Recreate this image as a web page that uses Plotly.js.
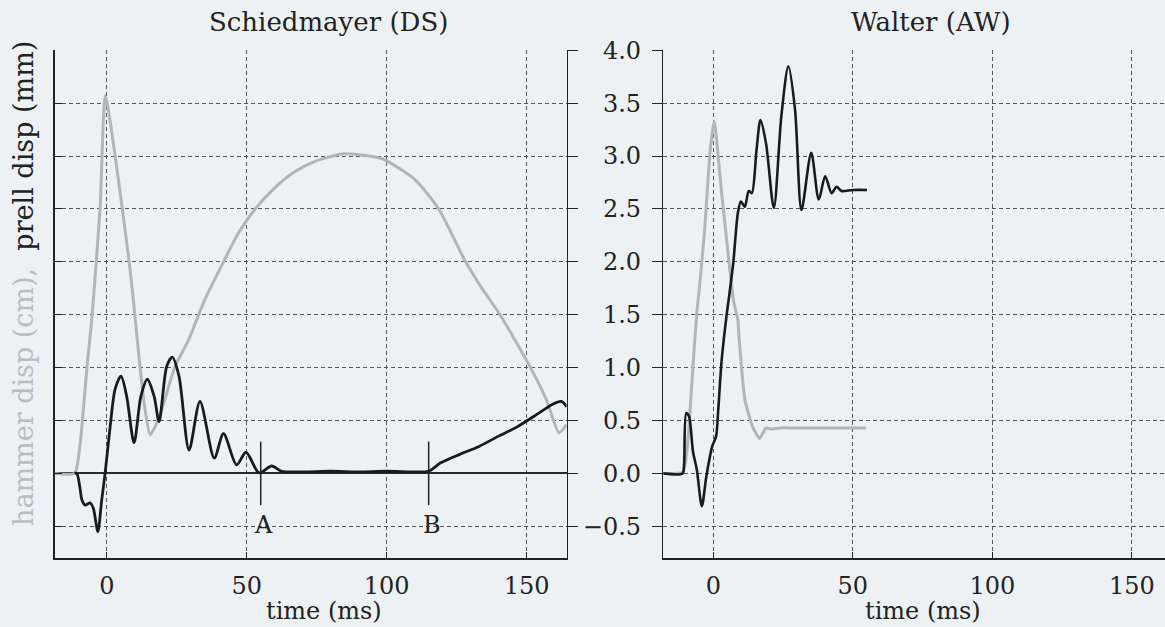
<!DOCTYPE html>
<html>
<head>
<meta charset="utf-8">
<script src="https://cdn.plot.ly/plotly-3.0.1.min.js"></script>
<style>html,body{margin:0;padding:0;background:#edf1f3;}#chart{width:1165px;height:627px;}</style>
</head>
<body>
<div id="chart"></div>
<script>
// ---- Data (time in ms, displacement) ----
// Schiedmayer (DS): hammer displacement (gray, cm)
const dsHammerT = [-18.5, -11.5, -10.3, -9.1, -7.1, -5.6, -4.8, -2.4, -0.5, 3.0, 8.0, 9.5, 11.9, 13.7, 15.5, 17.25, 19.6, 24.4, 29.2, 35, 41.7, 47, 53, 60, 67, 74.4, 84, 91, 98.8, 110, 118.6, 128.2, 134, 140.5, 151.4, 157, 161.6, 164.3];
const dsHammerV = [0, 0, 0.12, 0.38, 1.0, 1.39, 1.64, 2.5, 3.57, 3.0, 2.0, 1.64, 1.0, 0.6, 0.365, 0.44, 0.6, 1.01, 1.26, 1.64, 2.0, 2.27, 2.5, 2.7, 2.85, 2.95, 3.02, 3.01, 2.97, 2.78, 2.5, 2.0, 1.75, 1.5, 1.0, 0.7, 0.385, 0.46];
// Schiedmayer (DS): prell displacement (black, mm)
const dsPrellT = [-11.5, -10.7, -9.5, -8.9, -7.75, -5.96, -4.8, -3.2, -1.8, -0.6, 1.2, 3.0, 5.1, 7.1, 9.75, 12.2, 14.5, 16.9, 18.7, 21.4, 23.4, 25.8, 29.4, 33.3, 38.4, 41.7, 46.4, 49.75, 54.4, 58.9, 62.5, 70, 80, 90, 100, 110, 115, 119.3, 126.1, 133, 139.8, 146.6, 153.5, 159, 162.4, 164.3];
const dsPrellV = [0, 0, -0.15, -0.25, -0.30, -0.28, -0.33, -0.55, -0.25, 0, 0.44, 0.80, 0.92, 0.73, 0.29, 0.73, 0.89, 0.73, 0.49, 1.01, 1.10, 0.92, 0.22, 0.68, 0.145, 0.375, 0.08, 0.20, 0.005, 0.07, 0.02, 0.015, 0.02, 0.015, 0.02, 0.015, 0.02, 0.10, 0.18, 0.255, 0.35, 0.44, 0.555, 0.65, 0.68, 0.63];
// Walter (AW): hammer displacement (gray, cm)
const awHammerT = [-18, -11, -10, -8.7, -7.3, -5.9, -5.0, -3.2, -1.1, 0.3, 3.0, 5.8, 7.2, 8.8, 9.3, 11.3, 14.1, 16.6, 18.9, 20.7, 23.8, 30, 40, 50, 54.8];
const awHammerV = [0, 0.01, 0.1, 0.44, 1.01, 1.52, 1.75, 2.27, 3.06, 3.33, 2.65, 1.96, 1.64, 1.45, 1.26, 0.70, 0.44, 0.33, 0.43, 0.42, 0.43, 0.43, 0.43, 0.43, 0.43];
// Walter (AW): prell displacement (black, mm)
const awPrellT = [-18, -11, -10.5, -9.7, -8.7, -7.3, -5.9, -4.1, -2.5, -0.4, 1.0, 1.7, 3.0, 4.7, 5.8, 7.2, 8.8, 9.9, 11.3, 12.7, 13.8, 15.5, 16.9, 18.9, 21.7, 24.4, 26.9, 29.3, 31.6, 35.1, 37.8, 40.1, 42.4, 44.2, 45.9, 50, 55.1];
const awPrellV = [0, 0, 0.07, 0.57, 0.54, 0.21, 0.035, -0.31, -0.03, 0.255, 0.35, 0.57, 1.07, 1.48, 1.7, 2.0, 2.46, 2.57, 2.52, 2.67, 2.65, 3.06, 3.34, 3.12, 2.51, 3.38, 3.85, 3.44, 2.49, 3.03, 2.59, 2.81, 2.65, 2.71, 2.67, 2.68, 2.68];
// Event markers (DS)
const markerTimes = [55, 115];
const markerLabels = ['A', 'B'];
const markerSpan = [0.3, -0.3];
// Axes ticks
const xTicks = [0, 50, 100, 150];
const yTicks = [-0.5, 0, 0.5, 1, 1.5, 2, 2.5, 3, 3.5, 4];

const FONT = 'DejaVu Serif';
const INK = '#222';
const GRAY = '#b4b4b4';
const BLACK = '#1a1a1a';
const BG = '#edf1f3';

const mx = [], my = [];
markerTimes.forEach(t => { mx.push(t, t, null); my.push(markerSpan[0], markerSpan[1], null); });

const traces = [
  {x: dsHammerT, y: dsHammerV, xaxis: 'x', yaxis: 'y', mode: 'lines', line: {color: GRAY, width: 3, shape: 'spline', smoothing: 0.6}, hoverinfo: 'skip'},
  {x: dsPrellT, y: dsPrellV, xaxis: 'x', yaxis: 'y', mode: 'lines', line: {color: BLACK, width: 2.8, shape: 'spline', smoothing: 0.8}, hoverinfo: 'skip'},
  {x: mx, y: my, xaxis: 'x', yaxis: 'y', mode: 'lines', line: {color: INK, width: 1.5}, hoverinfo: 'skip'},
  {x: awHammerT, y: awHammerV, xaxis: 'x2', yaxis: 'y2', mode: 'lines', line: {color: GRAY, width: 3, shape: 'spline', smoothing: 0.5}, hoverinfo: 'skip'},
  {x: awPrellT, y: awPrellV, xaxis: 'x2', yaxis: 'y2', mode: 'lines', line: {color: BLACK, width: 2.6, shape: 'spline', smoothing: 0.8}, hoverinfo: 'skip'},
  {x: [0], y: [0], xaxis: 'x', yaxis: 'y3', mode: 'lines', line: {width: 0}, hoverinfo: 'skip', showlegend: false}
];

const grid = {showgrid: true, gridcolor: '#555', gridwidth: 1, griddash: '4px,3px'};
const yRange = [-0.8, 4.003];

const layout = {
  width: 1165, height: 627,
  margin: {l: 0, r: 0, t: 50, b: 69, pad: 0},
  paper_bgcolor: BG, plot_bgcolor: BG,
  showlegend: false,
  font: {family: FONT, color: INK, size: 24},
  xaxis: Object.assign({}, grid, {
    domain: [0.0472, 0.4864], range: [-18.5, 164.3], anchor: 'y',
    tickvals: xTicks, ticks: 'inside', ticklen: 6, tickcolor: INK,
    showline: true, linecolor: INK, linewidth: 1.5, zeroline: false,
    tickfont: {family: FONT, size: 24, color: INK}, ticklabelstandoff: 6
  }),
  yaxis: Object.assign({}, grid, {
    domain: [0, 1], range: yRange, anchor: 'x',
    tickvals: yTicks, ticks: 'inside', ticklen: 7, tickcolor: INK,
    showticklabels: false, showline: true, linecolor: INK, linewidth: 1.5,
    zeroline: true, zerolinecolor: '#2a2a2a', zerolinewidth: 2
  }),
  yaxis3: {
    overlaying: 'y', side: 'right', anchor: 'x', range: yRange,
    tickvals: yTicks, ticks: 'outside', ticklen: 10, tickcolor: INK,
    showticklabels: false, showgrid: false, zeroline: false,
    showline: true, linecolor: INK, linewidth: 1.5
  },
  xaxis2: Object.assign({}, grid, {
    domain: [0.5694, 1], range: [-17.9, 161.9], anchor: 'y2',
    tickvals: xTicks, ticks: 'inside', ticklen: 6, tickcolor: INK,
    showline: true, linecolor: INK, linewidth: 1.5, zeroline: false,
    tickfont: {family: FONT, size: 24, color: INK}, ticklabelstandoff: 6
  }),
  yaxis2: Object.assign({}, grid, {
    domain: [0, 1], range: yRange, anchor: 'x2',
    tickvals: yTicks, tickformat: '.1f', ticks: 'outside', ticklen: 10, tickcolor: INK,
    showline: true, linecolor: INK, linewidth: 1.5, zeroline: false,
    tickfont: {family: FONT, size: 24, color: INK}, ticklabelstandoff: 6
  }),
  annotations: [
    {text: 'Schiedmayer (DS)', xref: 'paper', yref: 'paper', x: 328 / 1165, y: 1 + 28 / 508, xanchor: 'center', yanchor: 'middle', showarrow: false, font: {family: FONT, size: 26, color: INK}},
    {text: 'Walter (AW)', xref: 'paper', yref: 'paper', x: 931 / 1165, y: 1 + 28 / 508, xanchor: 'center', yanchor: 'middle', showarrow: false, font: {family: FONT, size: 26, color: INK}},
    {text: 'time (ms)', xref: 'paper', yref: 'paper', x: 324 / 1165, y: 1 - (611 - 50) / 508, xanchor: 'center', yanchor: 'middle', showarrow: false, font: {family: FONT, size: 24, color: INK}},
    {text: 'time (ms)', xref: 'paper', yref: 'paper', x: 923 / 1165, y: 1 - (611 - 50) / 508, xanchor: 'center', yanchor: 'middle', showarrow: false, font: {family: FONT, size: 24, color: INK}},
    {text: '<span style="color:#b9bdc0">hammer disp (cm),</span>  prell disp (mm)', xref: 'paper', yref: 'paper', x: 23 / 1165, y: 1 - (284 - 50) / 508, xanchor: 'center', yanchor: 'middle', textangle: -90, showarrow: false, font: {family: FONT, size: 27, color: INK}}
  ]
};
markerTimes.forEach((t, i) => {
  layout.annotations.push({text: markerLabels[i], xref: 'x', yref: 'y', x: t, y: -0.49, xanchor: 'center', yanchor: 'middle', xshift: 3, showarrow: false, font: {family: FONT, size: 24, color: INK}});
});

Plotly.newPlot('chart', traces, layout, {staticPlot: true, displayModeBar: false});
</script>
</body>
</html>
